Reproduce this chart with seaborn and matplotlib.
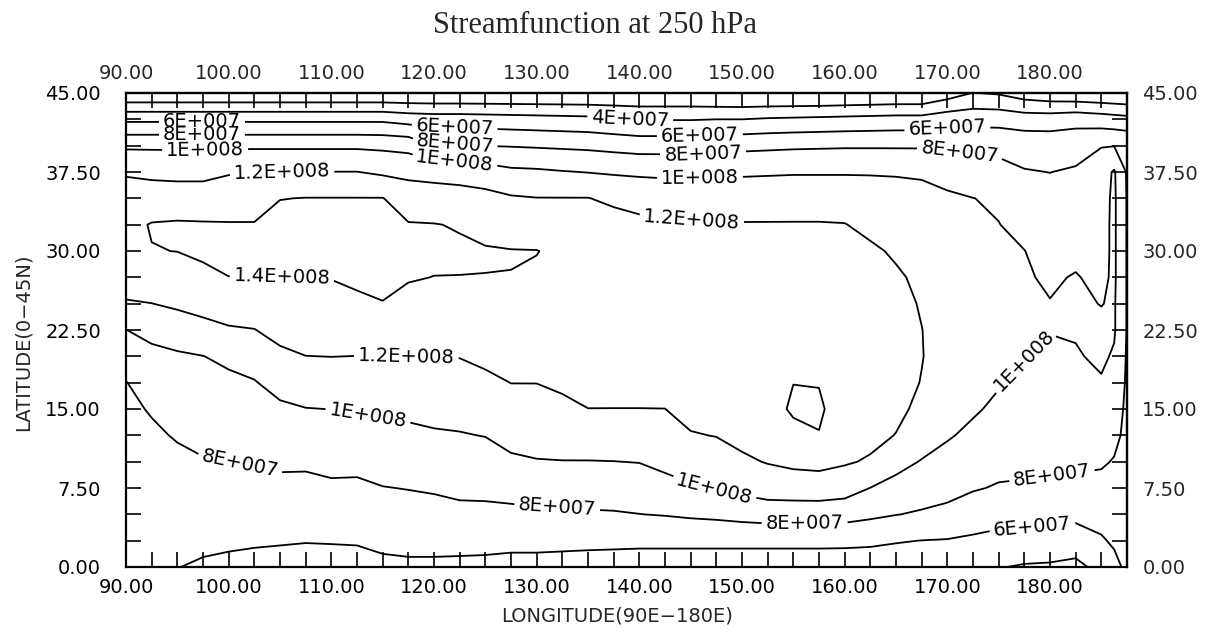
import numpy as np
import matplotlib
matplotlib.use('Agg')
import matplotlib.pyplot as plt
import matplotlib.ticker as mtick
import seaborn as sns

# grid longitudes / latitudes (degrees)
lon = [90, 92.5, 95, 97.5, 100, 102.5, 105, 107.5, 110, 112.5,
       115, 117.5, 120, 122.5, 125, 127.5, 130, 132.5, 135, 137.5,
       140, 142.5, 145, 147.5, 150, 152.5, 155, 157.5, 160, 162.5,
       165, 167.5, 170, 172.5, 175, 177.5, 180, 182.5, 185, 186.25, 187.5]
lat = [0, 2.5, 5, 7.5, 10, 12.5, 15, 17.5, 20, 22.5,
       25, 27.5, 30, 32.5, 35, 37.5, 40, 42.5, 45]

# streamfunction (x 1E+007), one meridional profile per longitude, lat 0 -> 45
psi_by_lon = [
    [6.2, 6.4, 6.6, 6.8, 7.1, 7.4, 7.6, 7.95, 8.9, 9.98, 11.85, 12.8, 13.4, 13.5, 12.9, 11.8, 9.7, 5.6, 0.0],        # 90
    [6.1, 6.35, 6.6, 6.9, 7.3, 7.7, 8.15, 8.8, 9.55, 10.5, 11.98, 13.1, 13.95, 14.1, 12.9, 11.6, 9.7, 5.6, 0.0],     # 92.5
    [6.05, 6.4, 6.8, 7.2, 7.6, 8.15, 8.7, 9.2, 9.75, 11.0, 12.3, 13.3, 14.02, 14.2, 12.9, 11.5, 9.7, 5.6, 0.0],      # 95
    [5.7, 6.5, 7.0, 7.45, 7.9, 8.4, 8.95, 9.45, 9.97, 11.45, 12.6, 13.6, 14.3, 14.15, 12.9, 11.5, 9.7, 5.6, 0.0],    # 97.5
    [5.3, 6.5, 7.0, 7.5, 7.98, 8.5, 9.05, 9.6, 10.4, 11.8, 13.0, 13.98, 14.5, 14.1, 13.1, 11.85, 9.7, 5.6, 0.0],     # 100
    [5.2, 6.3, 6.9, 7.5, 8.1, 8.7, 9.3, 9.9, 10.75, 11.95, 13.1, 14.02, 14.6, 14.1, 13.1, 12.03, 9.7, 5.6, 0.0],     # 102.5
    [5.1, 6.2, 6.9, 7.55, 8.3, 9.0, 9.7, 10.6, 11.6, 12.6, 13.4, 13.98, 14.6, 14.7, 13.95, 12.03, 9.7, 5.6, 0.0],    # 105
    [5.0, 6.1, 6.85, 7.5, 8.3, 9.1, 9.95, 11.0, 11.98, 12.9, 13.5, 13.98, 14.6, 14.8, 14.05, 12.03, 9.7, 5.6, 0.0],  # 107.5
    [5.0, 6.15, 7.0, 7.7, 8.5, 9.25, 10.02, 11.0, 12.02, 12.9, 13.5, 14.05, 14.6, 14.8, 14.05, 12.03, 9.7, 5.6, 0.0],  # 110
    [5.1, 6.2, 7.0, 7.65, 8.5, 9.3, 10.15, 11.0, 11.98, 13.0, 13.7, 14.3, 14.7, 14.8, 14.05, 12.03, 9.7, 5.6, 0.0],  # 112.5
    [5.4, 6.6, 7.2, 7.95, 8.7, 9.5, 10.3, 11.1, 11.98, 13.1, 13.95, 14.4, 14.75, 14.8, 14.05, 11.7, 9.6, 5.6, 0.0],  # 115
    [5.5, 6.8, 7.35, 8.05, 8.9, 9.6, 10.4, 11.2, 12.03, 12.9, 13.6, 14.1, 14.4, 14.1, 13.1, 11.5, 9.4, 5.2, 0.0],    # 117.5
    [5.5, 6.8, 7.5, 8.15, 9.0, 9.8, 10.55, 11.3, 12.05, 12.85, 13.5, 13.98, 14.3, 14.05, 13.0, 11.3, 7.98, 5.0, 0.0],  # 120
    [5.5, 6.7, 7.6, 8.35, 9.1, 9.9, 10.6, 11.35, 12.05, 12.8, 13.45, 13.98, 14.2, 13.9, 12.9, 11.1, 8.3, 5.0, 0.0],  # 122.5
    [5.5, 6.6, 7.6, 8.4, 9.2, 10.05, 10.85, 11.6, 12.4, 13.0, 13.5, 13.98, 14.1, 13.6, 12.6, 10.9, 7.98, 4.9, 0.0],  # 125
    [5.4, 6.5, 7.6, 8.6, 9.7, 10.6, 11.3, 12.02, 12.7, 13.2, 13.6, 13.98, 14.05, 13.3, 12.2, 10.4, 7.9, 4.8, 0.0],   # 127.5
    [5.4, 6.5, 7.7, 8.75, 9.9, 10.8, 11.4, 12.02, 12.65, 13.15, 13.55, 13.85, 14.03, 13.2, 12.05, 10.3, 7.8, 4.7, 0.0],  # 130
    [5.35, 6.45, 7.7, 8.8, 9.95, 10.95, 11.6, 12.3, 12.85, 13.25, 13.5, 13.7, 13.75, 13.1, 12.05, 10.1, 7.7, 4.6, 0.0],  # 132.5
    [5.3, 6.4, 7.8, 8.9, 9.95, 11.0, 11.98, 12.7, 13.1, 13.4, 13.55, 13.6, 13.5, 13.0, 12.05, 9.95, 7.6, 4.5, 0.0],  # 135
    [5.3, 6.35, 7.85, 8.95, 9.98, 11.0, 11.98, 12.6, 13.05, 13.35, 13.5, 13.5, 13.35, 12.8, 11.6, 9.8, 7.4, 4.2, 0.0],  # 137.5
    [5.3, 6.3, 7.98, 9.0, 10.05, 11.05, 11.98, 12.6, 13.0, 13.3, 13.4, 13.4, 13.2, 12.45, 11.3, 9.7, 7.2, 3.9, 0.0],  # 140
    [5.3, 6.3, 8.1, 9.4, 10.45, 11.25, 11.99, 12.6, 13.0, 13.3, 13.4, 13.4, 13.1, 12.3, 11.1, 9.65, 7.2, 3.9, 0.0],  # 142.5
    [5.3, 6.3, 8.3, 9.8, 10.85, 11.9, 12.5, 12.95, 13.25, 13.45, 13.55, 13.5, 13.2, 12.2, 11.1, 9.65, 7.2, 3.9, 0.0],  # 145
    [5.3, 6.3, 8.45, 10.1, 11.2, 12.05, 12.7, 13.15, 13.4, 13.55, 13.6, 13.5, 13.2, 12.1, 11.1, 9.65, 7.3, 4.0, -0.2],  # 147.5
    [5.3, 6.3, 8.7, 10.5, 11.7, 12.5, 13.0, 13.4, 13.6, 13.7, 13.7, 13.6, 13.25, 12.1, 11.1, 9.75, 7.5, 4.0, -0.3],  # 150
    [5.3, 6.3, 8.9, 10.9, 12.1, 12.9, 13.3, 13.5, 13.65, 13.7, 13.7, 13.6, 13.25, 12.1, 11.15, 9.8, 7.6, 4.2, -0.3],  # 152.5
    [5.3, 6.3, 8.9, 11.0, 12.4, 13.5, 14.25, 13.98, 13.7, 13.7, 13.7, 13.6, 13.25, 12.1, 11.2, 9.85, 7.7, 4.3, -0.3],  # 155
    [5.3, 6.3, 8.85, 11.1, 12.5, 13.95, 14.2, 13.95, 13.6, 13.6, 13.6, 13.5, 13.2, 12.1, 11.2, 9.85, 7.75, 4.4, -0.3],  # 157.5
    [5.25, 6.3, 8.8, 10.8, 12.2, 13.0, 13.3, 13.4, 13.4, 13.4, 13.35, 13.2, 12.9, 12.05, 11.2, 9.85, 7.8, 4.5, -0.2],  # 160
    [5.2, 6.25, 8.4, 9.98, 11.8, 12.5, 12.9, 13.0, 13.0, 13.0, 12.9, 12.6, 12.25, 11.6, 11.0, 9.85, 7.8, 4.6, -0.1],  # 162.5
    [5.1, 6.1, 8.05, 9.4, 10.6, 11.95, 12.4, 12.5, 12.5, 12.45, 12.4, 12.2, 11.8, 11.3, 10.9, 9.8, 7.8, 4.7, 0.0],  # 165
    [5.0, 5.98, 7.8, 8.9, 9.9, 10.9, 11.6, 11.95, 12.05, 12.02, 11.9, 11.7, 11.4, 11.0, 10.7, 9.7, 7.8, 4.7, 0.0],  # 167.5
    [5.0, 5.9, 7.6, 8.5, 9.3, 10.2, 10.8, 11.2, 11.4, 11.45, 11.4, 11.2, 10.95, 10.6, 10.3, 9.3, 7.6, 5.2, 1.0],  # 170
    [5.0, 5.7, 7.0, 8.15, 8.95, 9.55, 10.25, 10.6, 10.8, 10.85, 10.8, 10.65, 10.45, 10.25, 10.02, 9.0, 7.6, 5.3, 2.05],  # 172.5
    [4.1, 5.55, 6.6, 7.85, 8.55, 9.1, 9.6, 10.15, 10.4, 10.45, 10.4, 10.3, 10.15, 10.03, 9.8, 8.6, 7.5, 5.3, 1.8],  # 175
    [3.8, 5.5, 6.5, 7.8, 8.4, 8.9, 9.3, 9.7, 10.05, 10.2, 10.25, 10.15, 10.02, 9.6, 9.1, 8.1, 7.3, 5.0, 1.0],  # 177.5
    [3.7, 5.45, 6.4, 7.7, 8.35, 8.75, 9.1, 9.45, 9.75, 10.05, 10.05, 9.8, 9.5, 9.1, 8.6, 7.98, 7.2, 5.0, 0.6],  # 180
    [3.3, 5.4, 6.3, 7.6, 8.3, 8.8, 9.2, 9.55, 9.85, 10.15, 10.3, 10.1, 9.6, 9.2, 8.7, 8.2, 7.3, 5.3, 0.4],  # 182.5
    [4.8, 5.85, 6.5, 7.5, 8.2, 8.9, 9.4, 9.85, 10.3, 10.4, 9.95, 9.6, 9.5, 9.5, 9.4, 9.2, 7.9, 5.0, 0.2],  # 185
    [5.6, 6.2, 6.8, 7.4, 7.9, 8.4, 8.7, 9.0, 9.8, 10.2, 10.2, 10.3, 10.3, 10.3, 10.3, 10.2, 7.95, 4.8, 0.1],  # 186.25
    [6.3, 6.6, 7.0, 7.3, 7.5, 7.6, 7.7, 7.8, 7.8, 7.9, 7.9, 7.9, 7.9, 7.9, 7.9, 7.8, 7.8, 4.6, 0.0],  # 187.5
]

levels_1e7 = [2, 4, 6, 8, 10, 12, 14]

# where the in-line contour labels sit (lon, lat)
label_spots = [
    (97.4, 42.2), (97.4, 41.0), (97.7, 39.8), (105.2, 37.5),
    (122.0, 41.8), (122.0, 40.3), (122.0, 38.8),
    (139.1, 42.4), (145.9, 40.9), (146.2, 39.2), (145.9, 36.9),
    (170.0, 41.6), (171.2, 39.4), (145.1, 32.9),
    (105.2, 27.5), (117.3, 19.9), (113.6, 14.5), (101.1, 9.8),
    (132.0, 5.7), (147.3, 7.4), (156.1, 4.1), (180.2, 8.6),
    (178.3, 3.7), (177.5, 19.6),
]

lon_ticks = [90, 100, 110, 120, 130, 140, 150, 160, 170, 180]
lat_ticks = [0, 7.5, 15, 22.5, 30, 37.5, 45]

sns.set_style('ticks')
plt.rcParams['font.family'] = ['DejaVu Sans']

psi = np.array(psi_by_lon).T * 1e7

fig = plt.figure(figsize=(12.21, 6.33), dpi=100)
ax = fig.add_axes([126 / 1221, 1 - 567 / 633, 1001 / 1221, 474 / 633])

cs = ax.contour(lon, lat, psi, levels=np.array(levels_1e7) * 1e7,
                colors='black', linewidths=1.3)


def sci_label(v):
    e = int(np.floor(np.log10(v)))
    m = round(v / 10 ** e, 3)
    return f'{m:g}E+{e:03d}'


ax.clabel(cs, fmt=sci_label, manual=label_spots, fontsize=14,
          inline=True, inline_spacing=4)

ax.set_xlim(90, 187.5)
ax.set_ylim(0, 45)
ax.set_xticks(lon_ticks)
ax.set_xticks(np.arange(90, 187.5, 2.5), minor=True)
ax.set_yticks(lat_ticks)
ax.set_yticks(np.arange(0, 45.1, 2.5), minor=True)
ax.xaxis.set_major_formatter(mtick.FormatStrFormatter('%.2f'))
ax.yaxis.set_major_formatter(mtick.FormatStrFormatter('%.2f'))
ax.tick_params(which='both', direction='in', length=11, width=1.2,
               top=True, right=True, colors='black', labelsize=14)
ax.tick_params(axis='x', pad=8)
ax.tick_params(axis='y', pad=18)
for s in ax.spines.values():
    s.set_linewidth(1.6)
    s.set_color('black')

secx = ax.secondary_xaxis('top')
secx.set_xticks(lon_ticks)
secx.xaxis.set_major_formatter(mtick.FormatStrFormatter('%.2f'))
secx.tick_params(length=0, pad=7, labelsize=14)
secy = ax.secondary_yaxis('right')
secy.set_yticks(lat_ticks)
secy.yaxis.set_major_formatter(mtick.FormatStrFormatter('%.2f'))
secy.tick_params(length=0, pad=11, labelsize=14)
for sec in (secx, secy):
    for s in sec.spines.values():
        s.set_linewidth(1.6)

fig.text(595 / 1221, 1 - 33 / 633, 'Streamfunction at 250 hPa',
         family='Liberation Serif', fontsize=22, ha='center', va='baseline')
fig.text(617 / 1221, 1 - 616 / 633, 'LONGITUDE(90E\u2212180E)',
         fontsize=14, ha='center', va='center')
fig.text(23 / 1221, 1 - 342 / 633, 'LATITUDE(0\u221245N)', rotation=90,
         fontsize=14, ha='center', va='center')

fig.savefig('out.png', dpi=100, facecolor='white')
